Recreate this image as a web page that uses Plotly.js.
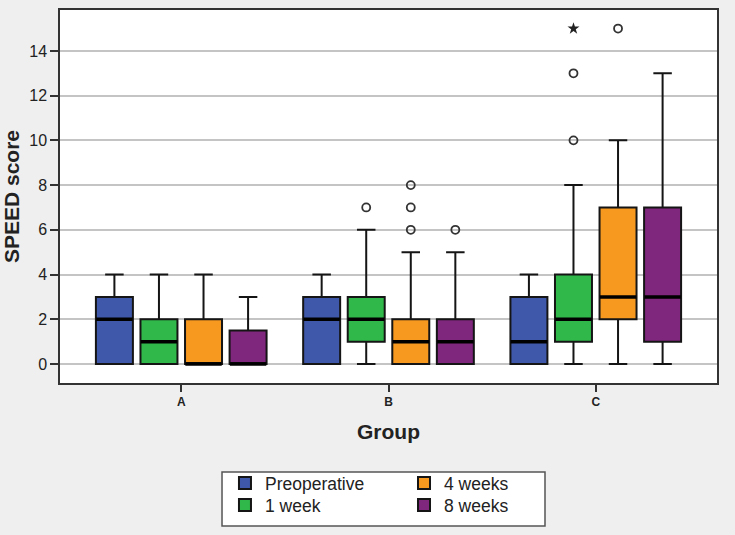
<!DOCTYPE html>
<html>
<head>
<meta charset="utf-8">
<script src="https://cdn.plot.ly/plotly-3.0.1.min.js"></script>
<style>
  body { margin: 0; background: #efefef; }
  #chartDiv { width: 735px; height: 535px; }
</style>
</head>
<body>
<div id="chartDiv"></div>
<script>
// groups on the x axis
var groups = ['A', 'B', 'C']

// one entry per time point, values for groups A, B, C
var names = ['Preoperative', '1 week', '4 weeks', '8 weeks']
var colors = ['#3f58aa', '#30b84a', '#f7981f', '#7f267d']

var q1 = [[0, 0, 0], [0, 1, 1], [0, 0, 2], [0, 0, 1]]
var medians = [[2, 2, 1], [1, 2, 2], [0, 1, 3], [0, 1, 3]]
var q3 = [[3, 3, 3], [2, 3, 4], [2, 2, 7], [1.5, 2, 7]]
var lowFence = [[0, 0, 0], [0, 0, 0], [0, 0, 0], [0, 0, 0]]
var highFence = [[4, 4, 4], [4, 6, 8], [4, 5, 10], [3, 5, 13]]

// outliers (circles) and extremes (stars)
var outX = [[], ['B', 'C', 'C'], ['B', 'B', 'B', 'C'], ['B']]
var outY = [[], [7, 10, 13], [6, 7, 8, 15], [6]]
var extX = [[], ['C'], [], []]
var extY = [[], [15], [], []]

// each legend entry gets its own legend so the 2x2 layout is kept
var legendIds = ['legend', 'legend2', 'legend3', 'legend4']

var data = []
names.forEach((nm, i) => {
  data.push({
    type: 'box',
    name: nm,
    x: groups,
    q1: q1[i],
    median: medians[i],
    q3: q3[i],
    lowerfence: lowFence[i],
    upperfence: highFence[i],
    offsetgroup: 'g' + i,
    legend: legendIds[i],
    fillcolor: colors[i],
    line: {color: '#151515', width: 2},
    whiskerwidth: 0.5,
    boxpoints: false,
    hoverinfo: 'y'
  })
})
// thick median bars, outliers and extremes, placed in the same offset groups
names.forEach((nm, i) => {
  data.push({
    type: 'scatter', mode: 'markers', x: groups, y: medians[i],
    offsetgroup: 'g' + i, showlegend: false, hoverinfo: 'skip',
    marker: {symbol: 'line-ew', size: 26, line: {color: '#000', width: 3.5}}
  })
  data.push({
    type: 'scatter', mode: 'markers', x: outX[i], y: outY[i],
    offsetgroup: 'g' + i, showlegend: false,
    marker: {symbol: 'circle-open', size: 8, color: '#333', line: {width: 1.8}}
  })
  data.push({
    type: 'scatter', mode: 'markers', x: extX[i], y: extY[i],
    offsetgroup: 'g' + i, showlegend: false,
    marker: {symbol: 'star', size: 9, color: '#222', line: {width: 0}}
  })
})

var legendFont = {size: 17.5, color: '#222'}
var legendBase = {
  orientation: 'v', xanchor: 'left', yanchor: 'middle',
  bgcolor: 'rgba(0,0,0,0)', borderwidth: 0, font: legendFont
}

var layout = {
  width: 735,
  height: 535,
  margin: {l: 60, r: 18, t: 10, b: 152, autoexpand: false},
  paper_bgcolor: '#efefef',
  plot_bgcolor: '#ffffff',
  font: {family: 'Liberation Sans, Arial, sans-serif', color: '#222'},
  boxmode: 'group',
  boxgap: 0.14,
  boxgroupgap: 0.17,
  scattermode: 'group',
  scattergap: 0.14,
  showlegend: true,
  xaxis: {
    type: 'category',
    categoryorder: 'array',
    categoryarray: groups,
    range: [-0.585, 2.585],
    showline: true,
    mirror: true,
    linecolor: '#333',
    linewidth: 1.5,
    ticks: 'outside',
    ticklen: 7,
    tickwidth: 1.5,
    tickcolor: '#333',
    tickfont: {size: 12, weight: 'bold', color: '#222'},
    title: {text: 'Group', font: {size: 21, weight: 'bold', color: '#222'}, standoff: 16}
  },
  yaxis: {
    range: [-0.85, 15.83],
    tick0: 0,
    dtick: 2,
    showline: true,
    mirror: true,
    linecolor: '#333',
    linewidth: 1.5,
    showgrid: true,
    gridcolor: '#c4c4c4',
    gridwidth: 1.5,
    zeroline: false,
    ticks: 'outside',
    ticklen: 8,
    tickwidth: 1.5,
    tickcolor: '#333',
    tickfont: {size: 16, color: '#222'},
    title: {text: 'SPEED score', font: {size: 21, weight: 'bold', color: '#222'}, standoff: 5}
  },
  legend: Object.assign({}, legendBase, {x: 0.2511, y: -0.2681}),
  legend2: Object.assign({}, legendBase, {x: 0.2511, y: -0.3271}),
  legend3: Object.assign({}, legendBase, {x: 0.5236, y: -0.2681}),
  legend4: Object.assign({}, legendBase, {x: 0.5236, y: -0.3271}),
  shapes: [{
    type: 'rect', xref: 'paper', yref: 'paper',
    x0: 0.2466, x1: 0.7382, y0: -0.3834, y1: -0.2386,
    fillcolor: '#ffffff', line: {color: '#555', width: 1.5}, layer: 'below'
  }]
}

Plotly.newPlot('chartDiv', data, layout, {displayModeBar: false})
</script>
</body>
</html>
